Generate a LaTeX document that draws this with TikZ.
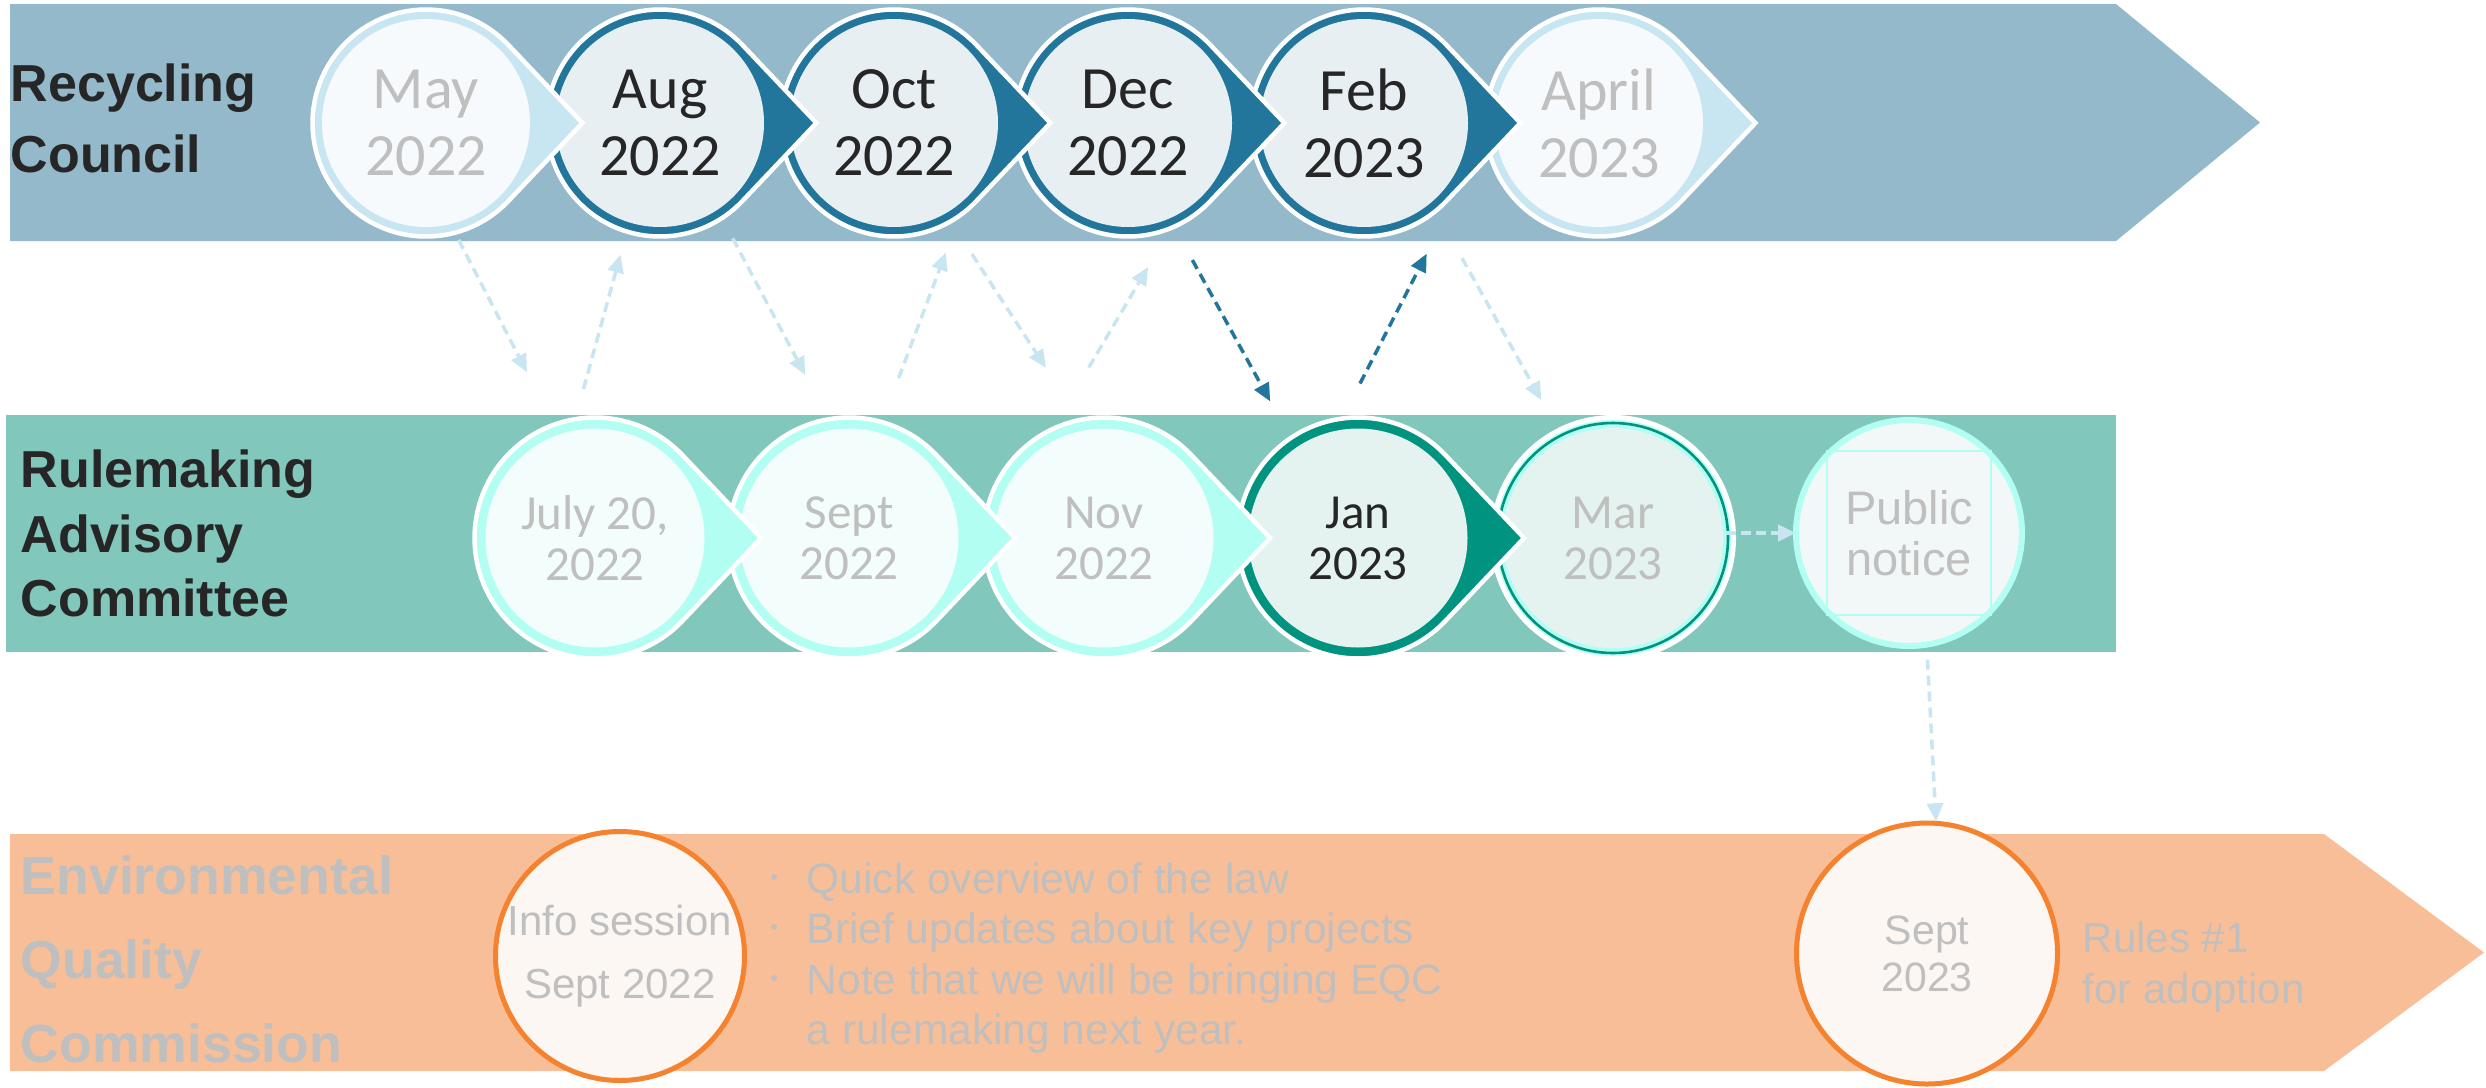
\documentclass[tikz,border=0pt]{standalone}
\usepackage{fontspec}
\setmainfont{Liberation Sans}
\newfontfamily\datefont{Carlito}
\usetikzlibrary{arrows.meta}

\definecolor{rcband}{HTML}{93B9CB}
\definecolor{rcring}{HTML}{23769B}
\definecolor{rcfill}{HTML}{E8EFF3}
\definecolor{rcpale}{HTML}{C8E6F1}
\definecolor{rcpalefill}{HTML}{F6FAFC}
\definecolor{racband}{HTML}{81C7BC}
\definecolor{racring}{HTML}{009380}
\definecolor{racfill}{HTML}{E4F3EF}
\definecolor{aqua}{HTML}{B2FEF2}
\definecolor{aquafill}{HTML}{F3FEFC}
\definecolor{pubfill}{HTML}{F2F8F7}
\definecolor{eqcband}{HTML}{F8BE98}
\definecolor{eqcring}{HTML}{F5822F}
\definecolor{eqcfill}{HTML}{FCF7F3}
\definecolor{arrowlight}{HTML}{C9E5F1}
\definecolor{mute}{HTML}{BFBFBF}
\definecolor{ink}{HTML}{262626}

\newcommand{\bul}{\makebox[0.36cm][l]{\raisebox{2.5pt}{\fontsize{6}{6}\selectfont\textbullet}}}

\tikzset{
  pics/pin/.style n args={4}{code={
    \filldraw[fill=#1, draw=white, line width=0.045cm]
      (43.4:#3) arc[start angle=43.4, end angle=316.6, radius=#3] -- (1.378*#3,0) -- cycle;
    \fill[#2] (0,0) circle (#4);
  }},
  topdate/.style={
    shape=circle, minimum size=2.31cm, inner sep=0pt, outer sep=0pt,
    align=center, text=ink,
    font=\datefont\fontsize{17.07}{19.06}\selectfont,
  },
  middate/.style={
    topdate, minimum size=2.45cm,
    font=\datefont\fontsize{13.94}{14.51}\selectfont,
  },
  eqcdate/.style={
    shape=circle, draw=eqcring, fill=eqcfill, line width=0.05cm,
    inner sep=0pt, outer sep=0pt, align=center, text=mute,
  },
  group/.style={
    anchor=west, inner sep=0pt, align=left, text=ink,
    font=\bfseries\fontsize{14.8}{20.2}\selectfont,
  },
  lightarrow/.style={
    draw=arrowlight, line width=0.035cm, dash pattern=on 0.1cm off 0.06cm,
    -{Triangle[length=0.18cm, width=0.16cm]},
  },
  darkarrow/.style={lightarrow, draw=rcring},
}

\begin{document}
\begin{tikzpicture}
\useasboundingbox (0,0) rectangle (24.86,10.87);

% Bands
\fill[rcband] (0.10,8.46) -- (0.10,10.83) -- (21.16,10.83) -- (22.60,9.645) -- (21.16,8.46) -- cycle;
\fill[racband] (0.06,4.35) rectangle (21.16,6.72);
\fill[eqcband] (0.10,0.16) -- (0.10,2.53) -- (23.24,2.53) -- (24.84,1.345) -- (23.24,0.16) -- cycle;

% Recycling Council
\pic at (15.99,9.64) {pin={rcpale}{rcpalefill}{1.135}{1.04}};
\node[topdate, text=mute] (apr) at (15.99,9.64) {April\\2023};
\pic at (13.64,9.64) {pin={rcring}{rcfill}{1.135}{1.04}};
\node[topdate] (feb) at (13.64,9.64) {Feb\\2023};
\pic at (11.28,9.64) {pin={rcring}{rcfill}{1.135}{1.04}};
\node[topdate] (dec) at (11.28,9.64) {Dec\\2022};
\pic at (8.94,9.64) {pin={rcring}{rcfill}{1.135}{1.04}};
\node[topdate] (oct) at (8.94,9.64) {Oct\\2022};
\pic at (6.60,9.64) {pin={rcring}{rcfill}{1.135}{1.04}};
\node[topdate] (aug) at (6.60,9.64) {Aug\\2022};
\pic at (4.26,9.64) {pin={rcpale}{rcpalefill}{1.135}{1.04}};
\node[topdate, text=mute] (may) at (4.26,9.64) {May\\2022};

% Rulemaking Advisory Committee
\node[middate, minimum size=2.26cm, draw=aqua, fill=pubfill, line width=0.06cm, text=mute,
      font=\fontsize{13.37}{14.51}\selectfont] (pub) at (19.09,5.54) {Public\\notice};
\draw[aqua, line width=0.02cm] (pub.center) ++(-0.82,-0.82) rectangle ++(1.64,1.64);
\filldraw[fill=aqua, draw=white, line width=0.05cm] (16.13,5.49) circle (1.205);
\draw[racring, line width=0.026cm] (16.13,5.49) circle (1.15);
\fill[racfill] (16.13,5.49) circle (1.10);
\node[middate, text=mute] (mar) at (16.13,5.49) {Mar\\2023};
\pic at (13.58,5.49) {pin={racring}{racfill}{1.205}{1.095}};
\node[middate] (jan) at (13.58,5.49) {Jan\\2023};
\pic at (11.04,5.49) {pin={aqua}{aquafill}{1.205}{1.095}};
\node[middate, text=mute] (nov) at (11.04,5.49) {Nov\\2022};
\pic at (8.49,5.49) {pin={aqua}{aquafill}{1.205}{1.095}};
\node[middate, text=mute] (sept) at (8.49,5.49) {Sept\\2022};
\pic at (5.95,5.49) {pin={aqua}{aquafill}{1.205}{1.095}};
\node[middate, text=mute] (july) at (5.95,5.49) {July 20,\\2022};

% Environmental Quality Commission
\node[eqcdate, minimum size=2.49cm, font=\fontsize{11.95}{17.9}\selectfont] (info) at (6.20,1.31) {Info session\\Sept 2022};
\node[eqcdate, minimum size=2.61cm, font=\fontsize{11.67}{13.37}\selectfont] (sept23) at (19.27,1.335) {Sept\\2023};
\node[group, text=mute, font=\fontsize{12.1}{14.37}\selectfont] (notes) at (7.70,1.292)
  {\bul Quick overview of the law\\ \bul Brief updates about key projects\\ \bul Note that we will be bringing EQC\\ \hspace*{0.36cm}a rulemaking next year.};
\node[group, text=mute, font=\fontsize{11.95}{14.5}\selectfont] (rules) at (20.82,1.20) {Rules \#1\\for adoption};

% Groups
\node[group] (rc) at (0.10,9.685) {Recycling\\Council};
\node[group, font=\bfseries\fontsize{14.8}{18.35}\selectfont] (rac) at (0.20,5.535) {Rulemaking\\Advisory\\Committee};
\node[group, text=mute, font=\bfseries\fontsize{15.25}{23.9}\selectfont] (eqc) at (0.20,1.275) {Environmental\\Quality\\Commission};

% Hand-offs
\draw[lightarrow, shorten <=0.06cm, shorten >=0.57cm] (may.-75.3) -- (july.110.7);
\draw[lightarrow, shorten <=0.29cm, shorten >=0.22cm] (july.99.9) -- (aug.-107.1);
\draw[lightarrow, shorten <=0.21cm, shorten >=0.48cm] (aug.-57.5) -- (sept.100);
\draw[lightarrow, shorten <=0.45cm, shorten >=0.36cm] (sept.74.9) -- (oct.-56.3);
\draw[lightarrow, shorten <=0.37cm, shorten >=0.60cm] (oct.-60.6) -- (nov.102.9);
\draw[lightarrow, shorten <=0.68cm, shorten >=0.42cm] (nov.114.5) -- (dec.-69);
\draw[darkarrow, shorten <=0.36cm, shorten >=0.40cm] (dec.-66.2) -- (jan.124);
\draw[darkarrow, shorten <=0.37cm, shorten >=0.86cm] (jan.97) -- (feb.-28);
\draw[lightarrow, shorten <=0.52cm, shorten >=0.33cm] (feb.-51.6) -- (mar.117.8);
\draw[lightarrow, line width=0.045cm, dash pattern=on 0.1cm off 0.05cm, shorten <=-0.1cm] (mar.east |- pub.west) -- (pub.west);
\draw[lightarrow, shorten <=0.15cm, shorten >=0.02cm] (pub.-81.5) -- (sept23.86);

\end{tikzpicture}
\end{document}
